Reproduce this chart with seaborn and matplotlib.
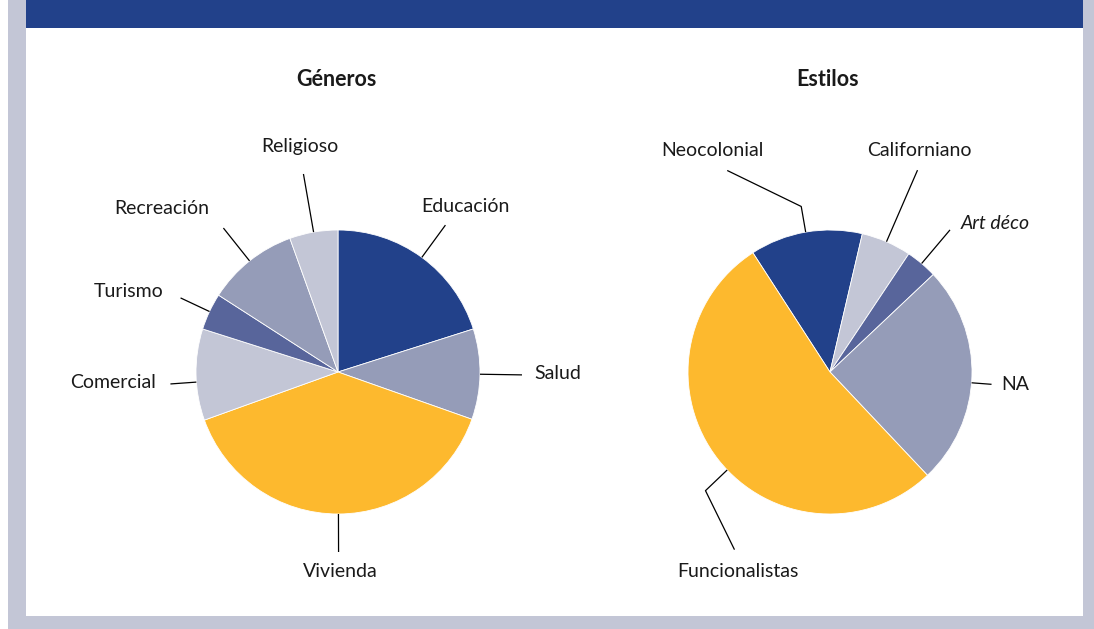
import numpy as np
import matplotlib
matplotlib.use("Agg")
import matplotlib.pyplot as plt
import seaborn as sns
from matplotlib.patches import Rectangle

# --- data (percent of buildings) ---
generos = ["Educación", "Salud", "Vivienda", "Comercial", "Turismo", "Recreación", "Religioso"]
generos_pct = [20.1, 10.3, 39.1, 10.4, 4.2, 10.4, 5.5]

estilos = ["Neocolonial", "Californiano", "Art déco", "NA", "Funcionalistas"]
estilos_pct = [12.8, 5.7, 3.6, 25.0, 52.9]

titulos = ["Géneros", "Estilos"]

# --- palette ---
AZUL = "#22418a"
AZUL_MEDIO = "#58659b"
GRIS_AZUL = "#959cb8"
GRIS_CLARO = "#c3c6d6"
AMARILLO = "#fdb92e"

colores_generos = [AZUL, GRIS_AZUL, AMARILLO, GRIS_CLARO, AZUL_MEDIO, GRIS_AZUL, GRIS_CLARO]
colores_estilos = [AZUL, GRIS_CLARO, AZUL_MEDIO, GRIS_AZUL, AMARILLO]

sns.set_theme(style="white")
plt.rcParams["font.family"] = ["Lato", "DejaVu Sans"]

W, H = 1094, 629
fig = plt.figure(figsize=(W / 100, H / 100), dpi=100)
ax = fig.add_axes([0, 0, 1, 1])


def Y(y):
    """Convert a top-down pixel row to the axes' bottom-up coordinate."""
    return H - y


# frame: grey border, white panel, blue header band
ax.add_patch(Rectangle((8, 0), W - 8, H, color=GRIS_CLARO, zorder=0, lw=0))
ax.add_patch(Rectangle((26, Y(616)), 1083 - 26, 616, color="white", zorder=0.5, lw=0))
ax.add_patch(Rectangle((26, Y(28)), 1083 - 26, 28, color=AZUL, zorder=0.6, lw=0))

R = 142
TXT = "#1a1a1a"

# leader-line layout per label: angle nudge, outer radius, optional elbow offset,
# text offset from the line end, alignment
layout_generos = {
    "Educación": dict(r=182, text=(20, -19), ha="center"),
    "Salud": dict(r=184, text=(12, -1), ha="left"),
    "Vivienda": dict(r=180, text=(2, 20), ha="center"),
    "Comercial": dict(da=3, r=168, text=(-14, -1), ha="right"),
    "Turismo": dict(r=174, text=(-17, -6), ha="right"),
    "Recreación": dict(r=184, text=(-62, -20), ha="center"),
    "Religioso": dict(r=201, text=(-4, -27), ha="center"),
}
layout_estilos = {
    "Neocolonial": dict(r=168, elbow=(-74, -36), text=(-15, -20), ha="center"),
    "Californiano": dict(r=220, text=(2, -20), ha="center"),
    "Art déco": dict(r=186, text=(11, -6), ha="left", style="italic"),
    "NA": dict(da=-2.7, r=162, text=(10, 0), ha="left"),
    "Funcionalistas": dict(da=5.5, r=172, elbow=(29, 59), text=(3, 22), ha="center"),
}


def dibujar_pastel(valores, etiquetas, colores, centro, inicio, layout, titulo):
    cx, cy = centro
    wedges, _ = ax.pie(
        valores, colors=colores, startangle=inicio, counterclock=False,
        center=(cx, Y(cy)), radius=R, frame=True,
        wedgeprops=dict(linewidth=0.6, edgecolor="white"),
    )
    for w in wedges:
        w.set_zorder(2)
    for w, etiqueta in zip(wedges, etiquetas):
        cfg = layout[etiqueta]
        mid = np.deg2rad((w.theta1 + w.theta2) / 2 + cfg.get("da", 0))
        ux, uy = np.cos(mid), np.sin(mid)
        xs = [cx + R * ux, cx + cfg["r"] * ux]
        ys = [Y(cy) + R * uy, Y(cy) + cfg["r"] * uy]
        if "elbow" in cfg:
            ex, ey = cfg["elbow"]
            xs.append(xs[-1] + ex)
            ys.append(ys[-1] - ey)
        ax.plot(xs, ys, color="black", lw=0.9, zorder=3, solid_capstyle="butt")
        tx, ty = cfg["text"]
        ax.text(xs[-1] + tx, ys[-1] - ty, etiqueta, ha=cfg["ha"], va="center",
                fontsize=14, color=TXT, style=cfg.get("style", "normal"), zorder=4)
    ax.text(cx - 2, Y(79), titulo, ha="center", va="center", fontsize=15.5,
            fontweight="bold", color=TXT, zorder=4)


dibujar_pastel(generos_pct, generos, colores_generos, (338, 372), 90,
               layout_generos, titulos[0])
dibujar_pastel(estilos_pct, estilos, colores_estilos, (830, 372), 122.9,
               layout_estilos, titulos[1])

ax.set_xlim(0, W)
ax.set_ylim(0, H)
ax.set_aspect("equal")
ax.axis("off")

fig.savefig("out.png", dpi=100, facecolor="white")
